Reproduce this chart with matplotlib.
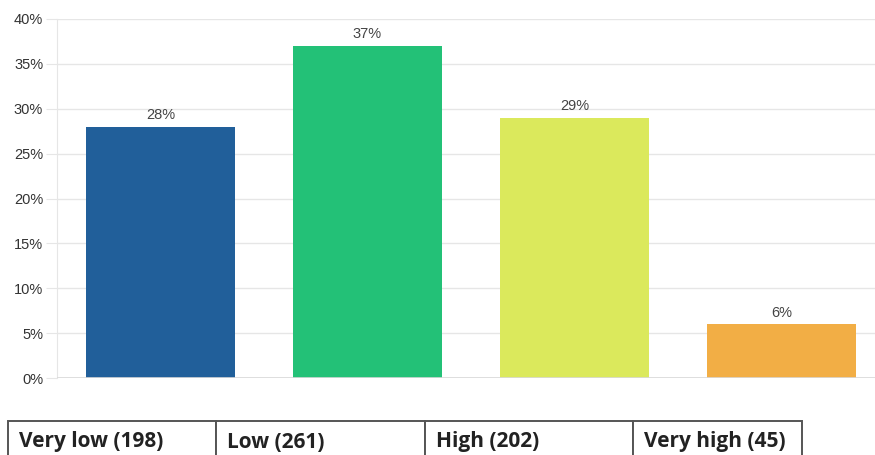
import matplotlib
matplotlib.use("Agg")
import matplotlib.pyplot as plt
import matplotlib.ticker as mticker

# Share of responses per level, with the respondent counts shown in the table
levels = ["Very low", "Low", "High", "Very high"]
counts = [198, 261, 202, 45]
shares = [28, 37, 29, 6]
colors = ["#215f9a", "#23c177", "#dbe95c", "#f2ae45"]

W, H = 875, 455
fig = plt.figure(figsize=(W / 100, H / 100), dpi=100, facecolor="white")

# ── bar chart ───────────────────────────────────────────────────────────
ax = fig.add_axes([57 / W, 1 - 378 / H, (W - 57) / W, (378 - 19) / H])
x = range(len(levels))
ax.bar(x, shares, width=0.72, color=colors, zorder=3)
for xi, v in zip(x, shares):
    ax.text(xi, v + 0.5, f"{v}%", ha="center", va="bottom",
            fontsize=10.5, color="#444444", family="Liberation Sans")

ax.set_ylim(0, 40)
ax.set_xlim(-0.5, 3.5 - 10 / 207)
ax.yaxis.set_major_locator(mticker.MultipleLocator(5))
ax.yaxis.set_major_formatter(mticker.FuncFormatter(lambda v, _: f"{v:.0f}%"))
ax.set_xticks([])
ax.grid(axis="y", color="#e6e6e6", linewidth=1, zorder=0)
for side in ("top", "right", "bottom"):
    ax.spines[side].set_visible(False)
ax.spines["left"].set_color("#e6e6e6")
ax.tick_params(axis="y", length=8, color="#e6e6e6", pad=2,
               labelsize=10.5, labelcolor="#333333")
for lbl in ax.get_yticklabels():
    lbl.set_family("Liberation Sans")
ax.axhline(0, color="#d9d9d9", linewidth=1.2, zorder=4)

# ── category table under the chart ──────────────────────────────────────
tax = fig.add_axes([8 / W, -8 / H, (802 - 8) / W, 42 / H])
tax.axis("off")
labels = [f"{lv} ({n})" for lv, n in zip(levels, counts)]
col_w = [208, 209, 208, 169]
tbl = tax.table(cellText=[labels], colWidths=[w / sum(col_w) for w in col_w],
                cellLoc="left", bbox=[0, 0, 1, 1])
tbl.auto_set_font_size(False)
for j, w in enumerate(col_w):
    cell = tbl[0, j]
    cell.set_edgecolor("#555555")
    cell.set_linewidth(1.4)
    cell.PAD = 11 / w
    cell.set_text_props(fontsize=15, fontweight="bold", color="#222222",
                        family="Open Sans", va="center")

fig.savefig("out.png", dpi=100, facecolor="white")
